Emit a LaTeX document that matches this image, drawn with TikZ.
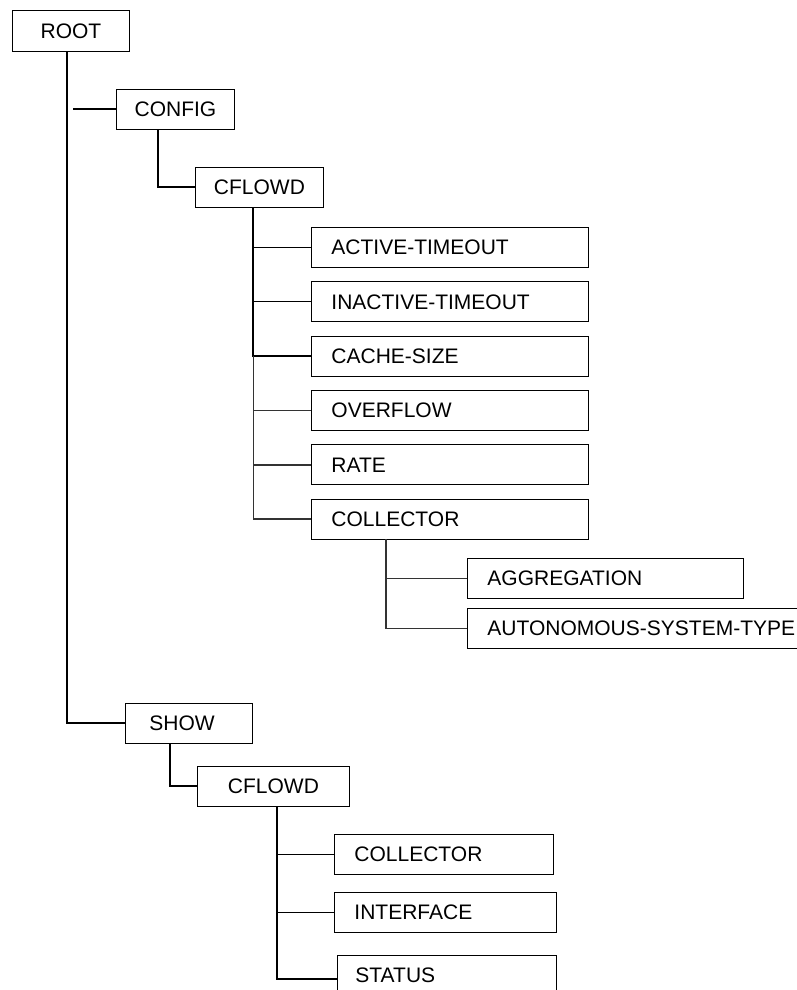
\documentclass[tikz,border=0pt]{standalone}
\usepackage{fontspec}
\setmainfont{Liberation Sans}
\usetikzlibrary{positioning}

\begin{document}
\begin{tikzpicture}[x=1pt, y=-1pt, box/.style={rectangle, draw, line width=0.9pt, minimum height=40pt, inner ysep=0pt, text height=15pt, text depth=0pt, anchor=north west, font=\fontsize{21}{25}\selectfont}, leaf/.style={box, align=left, inner xsep=20pt}, link/.style={line width=1pt}, bold link/.style={line width=2pt}, grey link/.style={line width=1.7pt, color=black!80}]

        \useasboundingbox (0,0) rectangle (796,990);

        % main branch
        \node[box, minimum width=117pt, minimum height=41pt] (root) at (12,10) {ROOT};
        \node[box, minimum width=118pt] (config) at (116,89) {CONFIG};
        \node[box, minimum width=128pt] (cflowd) at (195,167) {CFLOWD};
        \node[leaf, text width=237pt] (active) at (311,227) {ACTIVE-TIMEOUT};
        \node[leaf, text width=237pt, below=13.4pt of active.south west, anchor=north west] (inactive) {INACTIVE-TIMEOUT};
        \node[leaf, text width=237pt, below=13.4pt of inactive.south west, anchor=north west] (cache) {CACHE-SIZE};
        \node[leaf, text width=237pt, below=13.4pt of cache.south west, anchor=north west] (overflow) {OVERFLOW};
        \node[leaf, text width=237pt, below=13.4pt of overflow.south west, anchor=north west] (rate) {RATE};
        \node[leaf, text width=237pt, below=13.4pt of rate.south west, anchor=north west] (collector) {COLLECTOR};
        \node[leaf, text width=236pt] (aggr) at (467,558) {AGGREGATION};
        \node[leaf, text width=330pt, below=9pt of aggr.south west, anchor=north west] (astype) {AUTONOMOUS-SYSTEM-TYPE};

        % show branch
        \node[box, align=left, inner xsep=24pt, text width=79pt] (show) at (125,703) {SHOW};
        \node[box, minimum width=152pt] (showcflowd) at (197,766) {CFLOWD};
        \node[leaf, text width=179pt] (showcoll) at (334,834) {COLLECTOR};
        \node[leaf, text width=182pt, below=17pt of showcoll.south west, anchor=north west] (iface) {INTERFACE};
        \node[leaf, inner xsep=18pt, text width=183pt] (status) at (337,955) {STATUS};

        \coordinate (rootbus) at ([xshift=-3.5pt]root.south);
        \coordinate (cfgtap) at (73,109);
        \coordinate (bus) at ([xshift=-6pt]cflowd.south);
        \coordinate (collbus) at ([xshift=75pt]collector.south west);
        \coordinate (showbus) at ([xshift=80pt]showcflowd.south west);

        \draw[bold link] (rootbus) |- (show.west);
        \draw[bold link] (cfgtap) -- (cfgtap -| config.west);
        \draw[bold link] ([xshift=-17pt]config.south) |- (cflowd.west);
        \draw[bold link] (bus) |- (cache.west);
        \draw[grey link] (bus |- cache.west) |- (collector.west);
        \draw[link] (bus |- active.west) -- (active.west);
        \draw[link] (bus |- inactive.west) -- (inactive.west);
        \draw[grey link] (bus |- overflow.west) -- (overflow.west);
        \draw[grey link] (bus |- rate.west) -- (rate.west);
        \draw[grey link] (collbus) |- (astype.west);
        \draw[grey link] (collbus |- aggr.west) -- (aggr.west);
        \draw[bold link] ([xshift=45pt]show.south west) |- (showcflowd.west);
        \draw[bold link] (showbus) |- ([yshift=-4pt]status.west);
        \draw[link] (showbus |- showcoll.west) -- (showcoll.west);
        \draw[link] (showbus |- iface.west) -- (iface.west);
\end{tikzpicture}
\end{document}
